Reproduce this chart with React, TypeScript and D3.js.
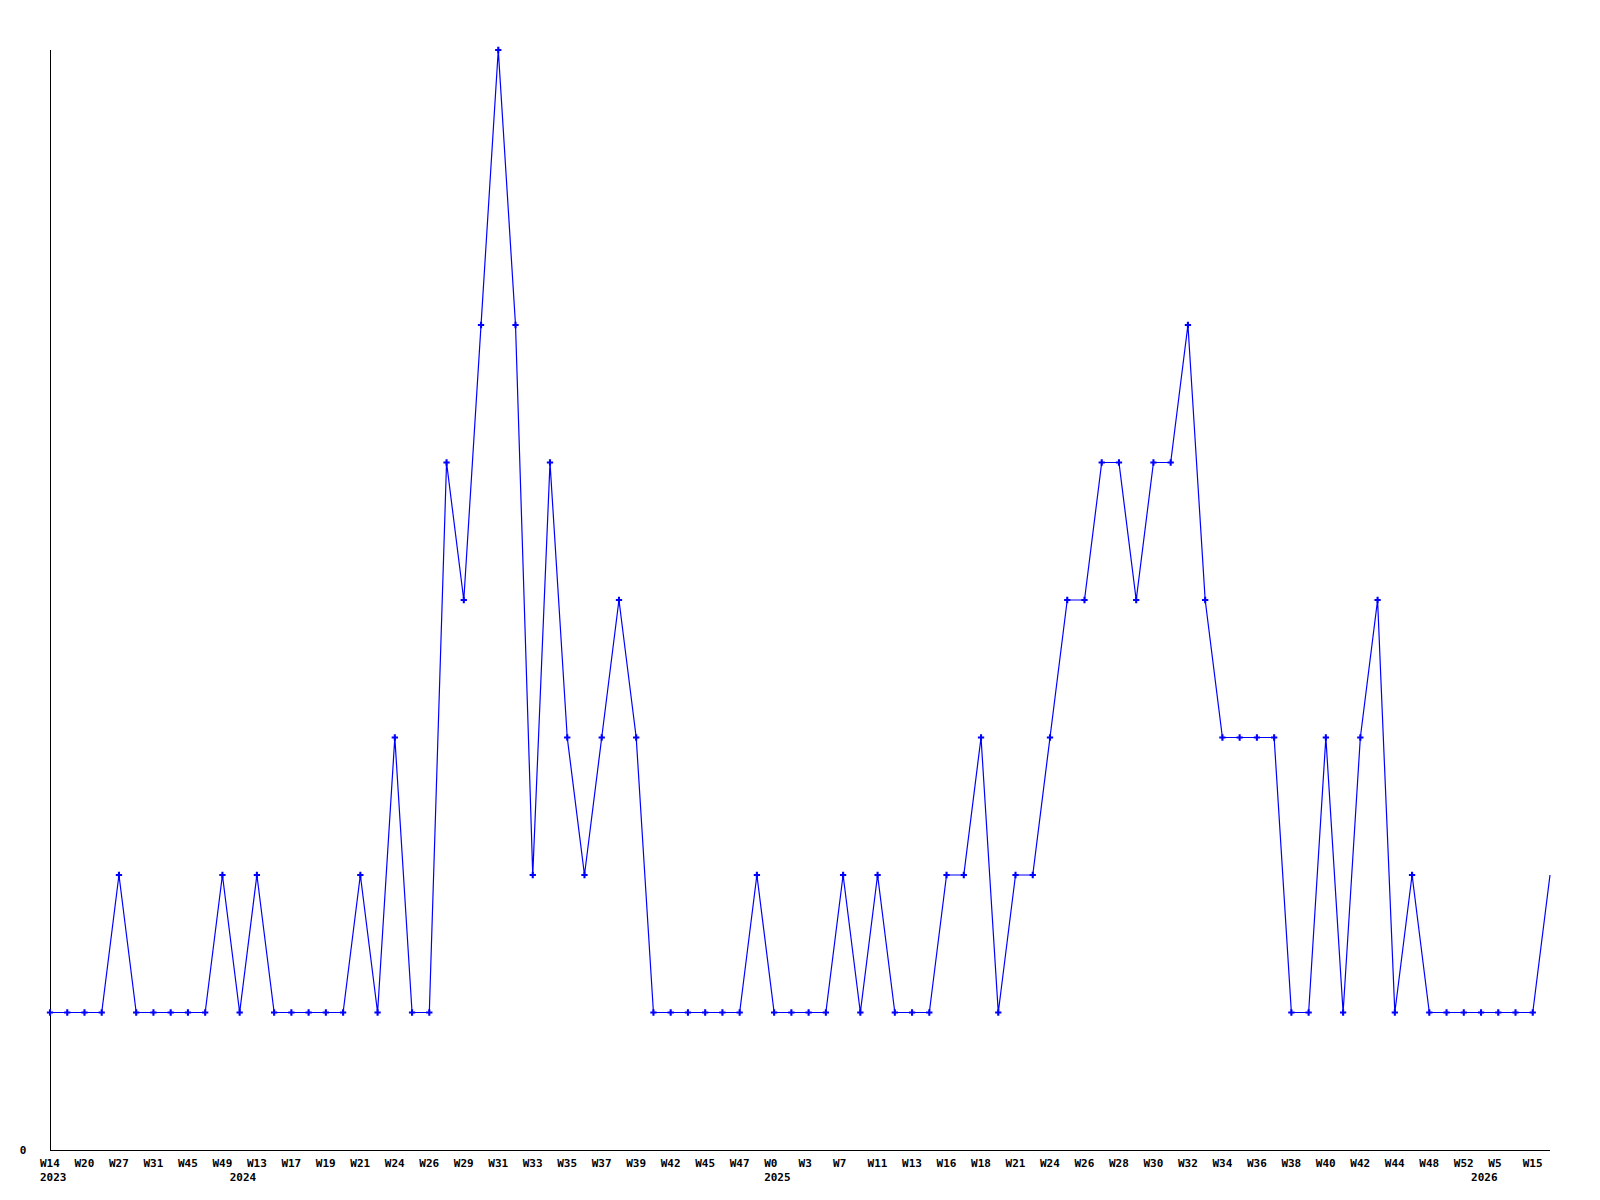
import React from 'react';
import * as d3 from 'd3';

// weekly counts, one per week
const values = [
  1, 1, 1, 1, 2, 1, 1, 1, 1, 1, 2, 1, 2, 1, 1, 1, 1, 1, 2, 1,
  3, 1, 1, 5, 4, 6, 8, 6, 2, 5, 3, 2, 3, 4, 3, 1, 1, 1, 1, 1,
  1, 2, 1, 1, 1, 1, 2, 1, 2, 1, 1, 1, 2, 2, 3, 1, 2, 2, 3, 4,
  4, 5, 5, 4, 5, 5, 6, 4, 3, 3, 3, 3, 1, 1, 3, 1, 3, 4, 1, 2,
  1, 1, 1, 1, 1, 1, 1, 2,
];

// labels shown under every second week
const weekLabels = [
  'W14', 'W20', 'W27', 'W31', 'W45', 'W49', 'W13', 'W17', 'W19', 'W21', 'W24',
  'W26', 'W29', 'W31', 'W33', 'W35', 'W37', 'W39', 'W42', 'W45', 'W47', 'W0',
  'W3', 'W7', 'W11', 'W13', 'W16', 'W18', 'W21', 'W24', 'W26', 'W28', 'W30',
  'W32', 'W34', 'W36', 'W38', 'W40', 'W42', 'W44', 'W48', 'W52', 'W5', 'W15',
];

const years = ['2023', '2024', '2025', '2026'];
const yearStart = [0, 11, 42, 83];

const W = 1600;
const H = 1200;
const margin = { top: 50, right: 50, bottom: 50, left: 50 };
const font = '"DejaVu Sans Mono", monospace';

export default function App() {
  const x = d3.scaleLinear()
    .domain([0, values.length - 1])
    .range([margin.left, W - margin.right]);
  const y = d3.scaleLinear()
    .domain([0, d3.max(values) as number])
    .range([H - margin.bottom, margin.top]);

  const line = d3.line<number>()
    .x((d, i) => x(i))
    .y(d => y(d));

  const marker = d3.symbol(d3.symbolCross).size(22)() as string;

  return (
    <svg width={W} height={H} style={{ position: 'absolute', left: 0, top: 0, background: '#fff' }}>
      {/* axes */}
      <line x1={x(0)} x2={x(0)} y1={y(d3.max(values) as number)} y2={y(0)} stroke="#000" strokeWidth={1} shapeRendering="crispEdges" />
      <line x1={x(0)} x2={x(values.length - 1)} y1={y(0)} y2={y(0)} stroke="#000" strokeWidth={1} shapeRendering="crispEdges" />
      <text x={23} y={y(0) + 4} textAnchor="middle" fontFamily={font} fontWeight="bold" fontSize={11}>0</text>

      {/* week labels */}
      {weekLabels.map((t, i) => (
        <text key={'w' + i} x={x(i * 2) - 10} y={y(0) + 17} fontFamily={font} fontWeight="bold" fontSize={11}>{t}</text>
      ))}
      {years.map((t, i) => (
        <text key={'y' + i} x={x(yearStart[i]) - 10} y={y(0) + 31} fontFamily={font} fontWeight="bold" fontSize={11}>{t}</text>
      ))}

      {/* series */}
      <path d={line(values) as string} fill="none" stroke="#0000ff" strokeWidth={1.2} />
      {values.map((v, i) => i < values.length - 1 && (
        <path key={'p' + i} d={marker} transform={`translate(${x(i)},${y(v)})`} fill="#0000ff" />
      ))}
    </svg>
  );
}
